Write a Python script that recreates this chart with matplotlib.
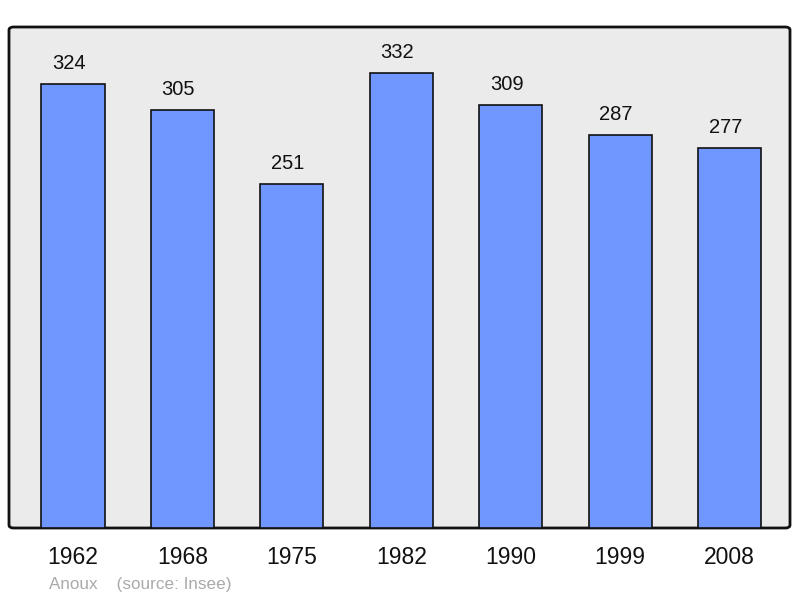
import matplotlib.pyplot as plt
from matplotlib.patches import FancyBboxPatch

plt.rcParams['font.family'] = ['Liberation Sans', 'DejaVu Sans']

years = ["1962", "1968", "1975", "1982", "1990", "1999", "2008"]
population = [324, 305, 251, 332, 309, 287, 277]

fig = plt.figure(figsize=(8, 5.98), dpi=100)
ax = fig.add_axes([9 / 800, 70 / 598, 781 / 800, 501 / 598])
ax.set_xlim(-0.585, 6.553)
ax.set_ylim(0, 365.6)

for s in ax.spines.values():
    s.set_visible(False)
ax.set_facecolor("none")

box = FancyBboxPatch((0, 0), 1, 1, boxstyle="round,pad=0,rounding_size=0.006",
                     transform=ax.transAxes, facecolor="#ebebeb",
                     edgecolor="#111111", linewidth=2, zorder=0, clip_on=False)
ax.add_patch(box)

x = range(len(years))
ax.bar(x, population, width=0.577, color="#7096ff", edgecolor="#111111",
       linewidth=1.2, zorder=2)

for i, v in zip(x, population):
    ax.annotate(str(v), (i, v), xytext=(-4, 11), textcoords="offset pixels",
                ha="center", va="bottom", fontsize=14.5, color="#111111")

ax.set_xticks(list(x))
ax.set_xticklabels(years, fontsize=16.5, color="#111111")
ax.tick_params(axis="x", length=0, pad=13)
ax.set_yticks([])

fig.text(49 / 800, 1 - 584 / 598, "Anoux    (source: Insee)", fontsize=12.3,
         color="#aaaaaa", va="center", ha="left")

fig.savefig("out.png", dpi=100)
